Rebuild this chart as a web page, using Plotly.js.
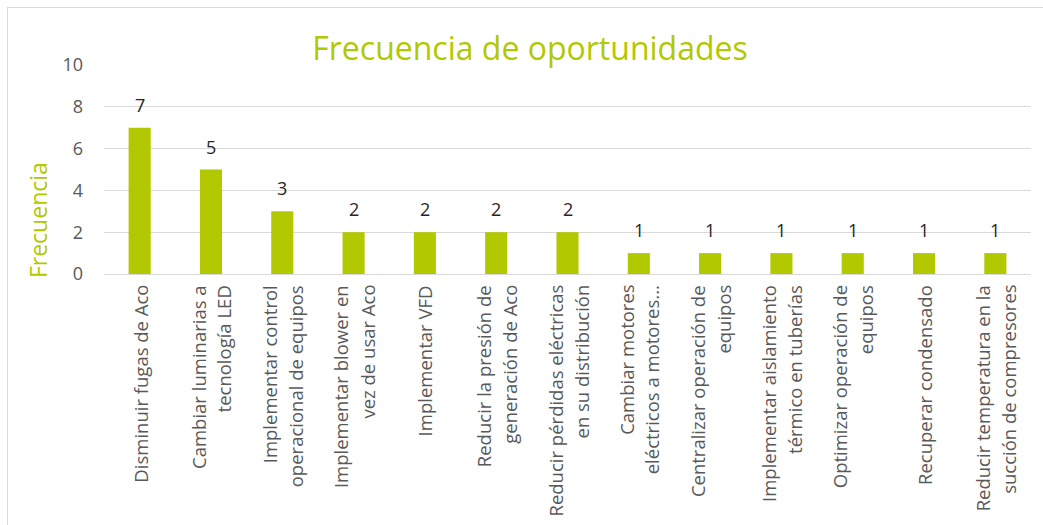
<!DOCTYPE html>
<html>
<head>
<meta charset="utf-8">
<script src="https://cdn.plot.ly/plotly-3.0.1.min.js"></script>
<style>
html,body{margin:0;padding:0;background:#fff;}
#wrap{position:relative;width:1043px;height:525px;}
#chart{position:absolute;left:0;top:0;width:1043px;height:525px;}
#frame{position:absolute;left:7px;top:7px;width:1040px;height:530px;border-left:1px solid #d9d9d9;border-top:1px solid #d9d9d9;pointer-events:none;}
</style>
</head>
<body>
<div id="wrap"><div id="chart"></div><div id="frame"></div></div>
<script>
// Category labels (line breaks as in the reference)
var categories = [
  "Disminuir fugas de Aco",
  "Cambiar luminarias a<br>tecnología LED",
  "Implementar control<br>operacional de equipos",
  "Implementar blower en<br>vez de usar Aco",
  "Implementar VFD",
  "Reducir la presión de<br>generación de Aco",
  "Reducir pérdidas eléctricas<br>en su distribución",
  "Cambiar motores<br>eléctricos a motores...",
  "Centralizar operación de<br>equipos",
  "Implementar aislamiento<br>térmico en tuberías",
  "Optimizar operación de<br>equipos",
  "Recuperar condensado",
  "Reducir temperatura en la<br>succión de compresores"
];
var frecuencia = [7, 5, 3, 2, 2, 2, 2, 1, 1, 1, 1, 1, 1];
var yTicks = [0, 2, 4, 6, 8, 10];

var green = "#B2C800";
var textGray = "#595959";
var FONT = "Open Sans, DejaVu Sans, sans-serif";

var ids = categories.map(function (c, i) { return "c" + i; });

var annotations = [];
// data labels
ids.forEach(function (id, i) {
  annotations.push({
    x: id, y: frecuencia[i], xref: "x", yref: "y",
    text: String(frecuencia[i]), showarrow: false,
    yanchor: "bottom", xanchor: "center", yshift: 9,
    font: {family: FONT, size: 18, color: "#262626"}
  });
});
// category labels, rotated, lines centered on each other
ids.forEach(function (id, i) {
  var lines = categories[i].split("<br>");
  var n = lines.length;
  lines.forEach(function (ln, j) {
    annotations.push({
      x: id, y: 0, xref: "x", yref: "y",
      text: ln, showarrow: false, textangle: -90,
      xanchor: "center", yanchor: "top",
      xshift: (j - (n - 1) / 2) * 26, yshift: -9,
      font: {family: FONT, size: 18.5, color: textGray}
    });
  });
});
// y-axis title
annotations.push({
  x: 0, y: 0.258, xref: "paper", yref: "paper",
  xshift: -66, text: "Frecuencia", showarrow: false, textangle: -90,
  xanchor: "center", yanchor: "middle",
  font: {family: FONT, size: 23, color: green}
});

var trace = {
  type: "bar",
  x: ids,
  y: frecuencia,
  marker: {color: green},
  hoverinfo: "skip"
};

var layout = {
  width: 1043, height: 525,
  margin: {l: 104, r: 12, t: 65, b: 251},
  paper_bgcolor: "#ffffff", plot_bgcolor: "#ffffff",
  bargap: 0.69,
  showlegend: false,
  title: {
    text: "Frecuencia de oportunidades",
    x: 530 / 1043, xanchor: "center", xref: "container",
    y: 1 - 49 / 525, yanchor: "middle", yref: "container",
    font: {family: FONT, size: 32, color: green}
  },
  xaxis: {
    showticklabels: false, showgrid: false, zeroline: false,
    showline: false, ticks: "", fixedrange: true
  },
  yaxis: {
    range: [0, 10], tickvals: yTicks, ticktext: yTicks.map(String),
    showgrid: true, gridcolor: "#d9d9d9", gridwidth: 1,
    zeroline: true, zerolinecolor: "#d9d9d9", zerolinewidth: 1,
    showline: false, ticks: "", ticklabelstandoff: 20,
    tickfont: {family: FONT, size: 18, color: textGray},
    fixedrange: true
  },
  annotations: annotations
};

Plotly.newPlot("chart", [trace], layout, {displayModeBar: false, staticPlot: true});
</script>
</body>
</html>
